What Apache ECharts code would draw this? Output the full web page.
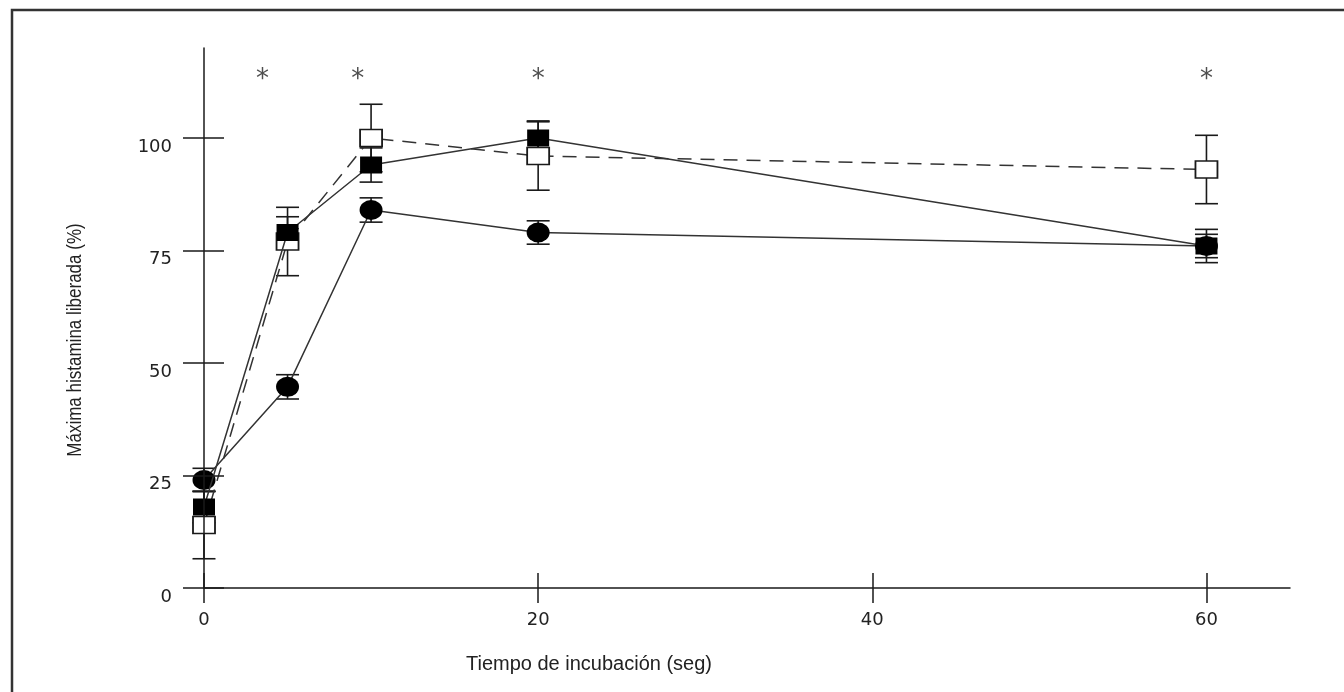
<!DOCTYPE html>
<html><head><meta charset="utf-8">
<script src="https://cdn.jsdelivr.net/npm/echarts@6/dist/echarts.min.js"></script>
<style>html,body{margin:0;padding:0;background:#fff}#c{width:1344px;height:692px}</style>
</head><body><div id="c"></div>
<script>
const times = [0, 5, 10, 20, 60];
const circleMean = [24, 44.7, 84, 79, 76];
const circleErr = [2.6, 2.7, 2.7, 2.6, 3.7];
const filledSqMean = [18, 79, 94, 100, 76];
const filledSqErr = [3.5, 3.5, 3.8, 3.8, 2.6];
const openSqMean = [14, 77, 100, 96, 93];
const openSqErr = [7.5, 7.6, 7.5, 7.6, 7.6];
const starTimes = [3.5, 9.2, 20, 60];
const starLevel = 114.4;
const xTicks = [0, 20, 40, 60];
const yTicks = [0, 25, 50, 75, 100];
const xTitle = 'Tiempo de incubación (seg)';
const yTitle = 'Máxima histamina liberada (%)';

const ink = '#1a1a1a';
const pts = (m) => times.map((t, i) => [t, m[i]]);

function errSeries(mean, err, z) {
  return {
    type: 'custom', z: z, silent: true,
    encode: { x: 0, y: [1, 2] },
    data: times.map((t, i) => [t, mean[i] - err[i], mean[i] + err[i]]),
    renderItem: function (params, api) {
      const x = api.value(0);
      const lo = api.coord([x, api.value(1)]);
      const hi = api.coord([x, api.value(2)]);
      const hw = 11.5;
      const style = { stroke: ink, lineWidth: 1.6 };
      return { type: 'group', children: [
        { type: 'line', shape: { x1: lo[0], y1: lo[1], x2: hi[0], y2: hi[1] }, style: style },
        { type: 'line', shape: { x1: lo[0] - hw, y1: lo[1], x2: lo[0] + hw, y2: lo[1] }, style: style },
        { type: 'line', shape: { x1: hi[0] - hw, y1: hi[1], x2: hi[0] + hw, y2: hi[1] }, style: style }
      ]};
    }
  };
}

const labelFont = { fontFamily: 'DejaVu Sans', fontSize: 18, color: '#222' };
const xBase = { type: 'value', min: 0, max: 65, position: 'bottom', splitLine: { show: false } };
const yBase = { type: 'value', min: 0, max: 120, position: 'left', splitLine: { show: false } };

const option = {
  animation: false,
  backgroundColor: '#fff',
  grid: { left: 204, right: 54, top: 48, bottom: 104 },
  xAxis: [
    Object.assign({}, xBase, {
      axisLine: { onZero: false, lineStyle: { color: ink, width: 1.5 } },
      axisTick: { customValues: xTicks, length: 15, lineStyle: { color: ink, width: 1.5 } },
      axisLabel: Object.assign({ customValues: xTicks, margin: 23 }, labelFont)
    }),
    Object.assign({}, xBase, {
      axisLine: { show: false, onZero: false },
      axisTick: { customValues: xTicks, inside: true, length: 15, lineStyle: { color: ink, width: 1.5 } },
      axisLabel: { show: false }
    })
  ],
  yAxis: [
    Object.assign({}, yBase, {
      z: 10,
      axisLine: { onZero: false, lineStyle: { color: ink, width: 1.5 } },
      axisTick: { customValues: yTicks, length: 21, lineStyle: { color: ink, width: 1.5 } },
      axisLabel: Object.assign({ customValues: yTicks, margin: 32, verticalAlign: 'top' }, labelFont)
    }),
    Object.assign({}, yBase, {
      z: 10,
      axisLine: { show: false, onZero: false },
      axisTick: { customValues: yTicks, inside: true, length: 20, lineStyle: { color: ink, width: 1.5 } },
      axisLabel: { show: false }
    })
  ],
  graphic: [
    { type: 'polyline', shape: { points: [[12, 700], [12, 10], [1350, 10]] }, style: { stroke: '#333', lineWidth: 2.5, fill: null }, silent: true },
    { type: 'text', x: 75, y: 340, rotation: Math.PI / 2, scaleY: 1.2, style: { text: yTitle, font: '17px "Liberation Sans"', fill: '#222', align: 'center', verticalAlign: 'middle' } },
    { type: 'text', x: 589, y: 664, style: { text: xTitle, font: '20px "Liberation Sans"', fill: '#222', align: 'center', verticalAlign: 'middle' } }
  ],
  series: [
    errSeries(openSqMean, openSqErr, 1),
    errSeries(circleMean, circleErr, 1),
    errSeries(filledSqMean, filledSqErr, 1),
    {
      type: 'line', z: 4, data: pts(openSqMean), symbol: 'rect', symbolSize: [22, 17],
      itemStyle: { color: '#fff', borderColor: ink, borderWidth: 1.6 },
      lineStyle: { color: '#333', width: 1.5, type: [14, 9] }
    },
    {
      type: 'line', z: 5, data: pts(circleMean), symbol: 'circle', symbolSize: [23, 20],
      itemStyle: { color: '#000', borderWidth: 0 },
      lineStyle: { color: '#333', width: 1.5 }
    },
    {
      type: 'line', z: 6, data: pts(filledSqMean), symbol: 'rect', symbolSize: [22, 17],
      itemStyle: { color: '#000', borderWidth: 0 },
      lineStyle: { color: '#333', width: 1.5 }
    },
    {
      type: 'scatter', z: 7, silent: true, data: starTimes.map(t => [t, starLevel]),
      symbolSize: 1, itemStyle: { color: 'rgba(0,0,0,0)' },
      label: { show: true, position: 'inside', formatter: '*', fontFamily: 'DejaVu Sans', fontSize: 26, color: '#222', offset: [0, 7] }
    }
  ]
};
echarts.init(document.getElementById('c')).setOption(option);
</script></body></html>
